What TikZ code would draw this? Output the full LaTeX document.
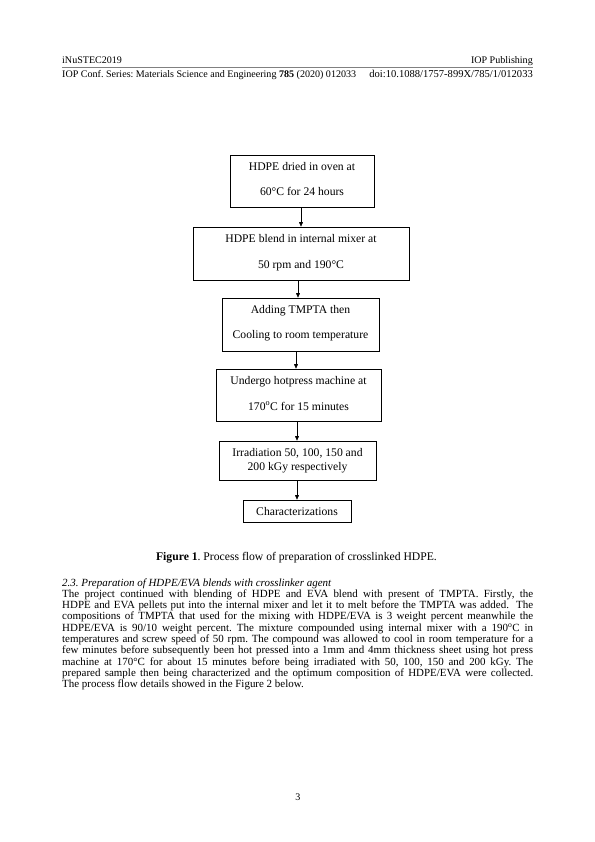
\documentclass[tikz,border=0pt]{standalone}
\usepackage{fontspec}
\setmainfont{Liberation Serif}
\usetikzlibrary{arrows.meta}
\frenchspacing
\begin{document}
\begin{tikzpicture}[x=1bp,y=-1bp,
  boxst/.style={draw=black, line width=0.6bp, inner sep=0pt},
  boxtxt/.style={anchor=base, inner sep=0pt, font=\fontsize{11.7}{14}\selectfont},
  arr/.style={line width=0.6bp, -{Triangle[length=4.5bp,width=3.8bp]}},
  body/.style={anchor=base west, inner sep=0pt, font=\fontsize{11}{12}\selectfont},
  hdr/.style={inner sep=0pt, font=\fontsize{10.1}{12}\selectfont},
  ]
\useasboundingbox[fill=white] (0,0) rectangle (595,842);
% header
\node[hdr, anchor=base west] (h1) at (62,63.5) {iNuSTEC2019};
\node[hdr, anchor=base east] (h2) at (533,63.5) {IOP Publishing};
\draw[gray, line width=0.6bp] (62,67.5) coordinate (r1) -- (533,67.5) coordinate (r2);
\node[hdr, anchor=base west] (h3) at (62,77) {IOP Conf. Series: Materials Science and Engineering \textbf{785} (2020) 012033};
\node[hdr, anchor=base east, font=\fontsize{10.6}{12}\selectfont] (h4) at (533,77) {doi:10.1088/1757-899X/785/1/012033};
% boxes
\node[boxst, minimum width=144bp, minimum height=52bp] (b1) at (302,181) {};
\node[boxst, minimum width=216bp, minimum height=53bp] (b2) at (301,253.5) {};
\node[boxst, minimum width=157bp, minimum height=53bp] (b3) at (300.5,324.5) {};
\node[boxst, minimum width=165bp, minimum height=52bp] (b4) at (298.5,395) {};
\node[boxst, minimum width=157bp, minimum height=39bp] (b5) at (297.5,460.5) {};
\node[boxst, minimum width=108bp, minimum height=22bp] (b6) at (297,511) {};
% box texts
\node[boxtxt] (t1a) at (302,170) {HDPE dried in oven at};
\node[boxtxt] (t1b) at (302,195.5) {60°C for 24 hours};
\node[boxtxt] (t2a) at (301,242.5) {HDPE blend in internal mixer at};
\node[boxtxt] (t2b) at (301,268) {50 rpm and 190°C};
\node[boxtxt] (t3a) at (300.5,313) {Adding TMPTA then};
\node[boxtxt] (t3b) at (300.5,338.5) {Cooling to room temperature};
\node[boxtxt] (t4a) at (298.5,384.5) {Undergo hotpress machine at};
\node[boxtxt] (t4b) at (298.5,410) {170\textsuperscript{o}C for 15 minutes};
\node[boxtxt] (t5a) at (297.5,456) {Irradiation 50, 100, 150 and};
\node[boxtxt] (t5b) at (297.5,470.7) {200 kGy respectively};
\node[boxtxt] (t6) at (297,515) {Characterizations};
% arrows
\draw[arr] ([xshift=-1bp]b1.south) -- ([xshift=-1bp]b1.south |- b2.north);
\draw[arr] ([xshift=-3bp]b2.south) -- ([xshift=-3bp]b2.south |- b3.north);
\draw[arr] ([xshift=-4.5bp]b3.south) -- ([xshift=-4.5bp]b3.south |- b4.north);
\draw[arr] ([xshift=-1.5bp]b4.south) -- ([xshift=-1.5bp]b4.south |- b5.north);
\draw[arr] ([xshift=-0.5bp]b5.south) -- ([xshift=-0.5bp]b5.south |- b6.north);
% caption
\node[anchor=base, inner sep=0pt, font=\fontsize{11.7}{14}\selectfont] (cap) at (296.5,560) {\textbf{Figure 1}. Process flow of preparation of crosslinked HDPE.};
% body
\node[body] (l1) at (62,586) {\itshape 2.3. Preparation of HDPE/EVA blends with crosslinker agent};
\node[body] (l2) at (62,597.3) {\makebox[471bp][s]{The project continued with blending of HDPE and EVA blend with present of TMPTA. Firstly, the}};
\node[body] (l3) at (62,608.6) {\makebox[471bp][s]{HDPE and EVA pellets put into the internal mixer and let it to melt before the TMPTA was added.\ \ The}};
\node[body] (l4) at (62,619.9) {\makebox[471bp][s]{compositions of TMPTA that used for the mixing with HDPE/EVA is 3 weight percent meanwhile the}};
\node[body] (l5) at (62,631.2) {\makebox[471bp][s]{HDPE/EVA is 90/10 weight percent. The mixture compounded using internal mixer with a 190\textsuperscript{o}C in}};
\node[body] (l6) at (62,642.5) {\makebox[471bp][s]{temperatures and screw speed of 50 rpm. The compound was allowed to cool in room temperature for a}};
\node[body] (l7) at (62,653.8) {\makebox[471bp][s]{few minutes before subsequently been hot pressed into a 1mm and 4mm thickness sheet using hot press}};
\node[body] (l8) at (62,665.1) {\makebox[471bp][s]{machine at 170°C for about 15 minutes before being irradiated with 50, 100, 150 and 200 kGy. The}};
\node[body] (l9) at (62,676.4) {\makebox[471bp][s]{prepared sample then being characterized and the optimum composition of HDPE/EVA were collected.}};
\node[body] (l10) at (62,687.7) {The process flow details showed in the Figure 2 below.};
% page number
\node[hdr, anchor=base] (pg) at (298,800) {3};
\end{tikzpicture}
\end{document}
